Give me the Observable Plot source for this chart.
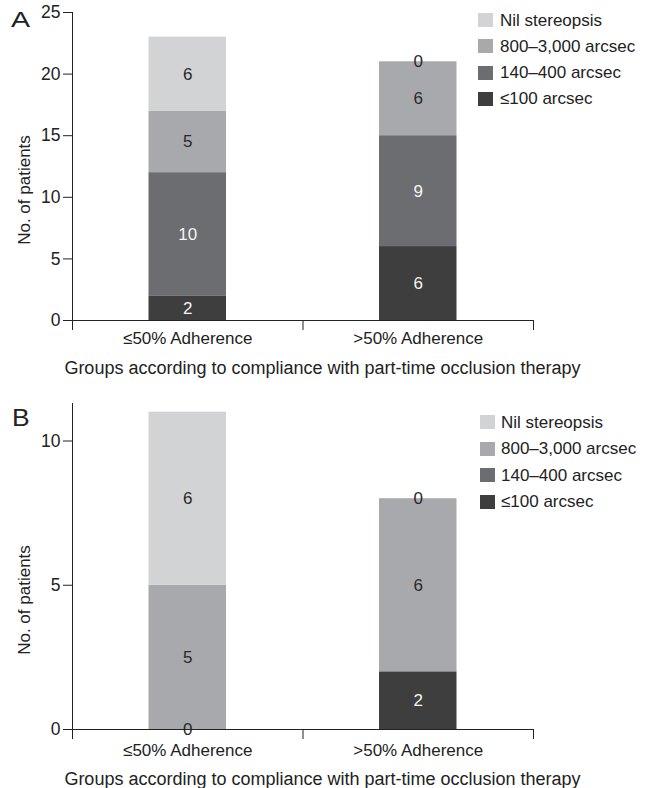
<!DOCTYPE html>
<html><head><meta charset="utf-8">
<script src="https://cdn.jsdelivr.net/npm/d3@7"></script>
<script src="https://cdn.jsdelivr.net/npm/@observablehq/plot@0.6"></script>
<style>
body{margin:0;background:#fff;font-family:"Liberation Sans",Arial,sans-serif;}
#wrap{position:relative;width:649px;height:788px;overflow:hidden;}
.abs{position:absolute;white-space:nowrap;color:#222;font-size:17px;line-height:17px;}
.sw{position:absolute;width:15px;height:14px;}
</style></head><body><div id="wrap"></div>
<script>
const groups = ["≤50% Adherence", ">50% Adherence"];
const categories = ["≤100 arcsec", "140–400 arcsec", "800–3,000 arcsec", "Nil stereopsis"];
const colors = ["#3e3e3f", "#6c6d71", "#a8a9ac", "#d2d3d5"];
// Panel A
const aLe100 = [2, 6];
const a140to400 = [10, 9];
const a800to3000 = [5, 6];
const aNil = [6, 0];
// Panel B
const bLe100 = [0, 2];
const b140to400 = [null, null];
const b800to3000 = [5, 6];
const bNil = [6, 0];
const yTicksA = [0, 5, 10, 15, 20, 25];
const yTicksB = [0, 5, 10];
const xTitle = "Groups according to compliance with part-time occlusion therapy";
const yTitle = "No. of patients";

function buildRows(series) {
  const rows = [];
  groups.forEach((g, i) => {
    let acc = 0;
    series.forEach((vals, k) => {
      const v = vals[i];
      if (v == null) return;
      rows.push({group: g, gi: i, cat: categories[k], ci: k, value: v, y1: acc, y2: acc + v});
      acc += v;
    });
  });
  return rows;
}

function panel(rows, yDomain, yTicks, o) {
  const light = rows.filter(d => !(d.value > 0 && d.ci < 2));
  const dark = rows.filter(d => d.value > 0 && d.ci < 2);
  return Plot.plot({
    width: 649, height: o.height,
    marginLeft: 72, marginRight: 116, marginTop: o.mt, marginBottom: o.mb,
    style: {fontFamily: "'Liberation Sans', Arial, sans-serif", fontSize: "17px", color: "#222", background: "white"},
    x: {type: "linear", domain: [0, groups.length], axis: null},
    y: {domain: yDomain, axis: null},
    color: {domain: categories, range: colors},
    marks: [
      Plot.rect(rows, {x1: d => d.gi, x2: d => d.gi + 1, y1: "y1", y2: "y2", fill: "cat", insetLeft: 76.5, insetRight: 76.5}),
      Plot.text(light, {x: d => d.gi + 0.5, y: d => (d.y1 + d.y2) / 2, text: d => String(d.value), fill: "#2a2a2a", fontSize: 17}),
      Plot.text(dark, {x: d => d.gi + 0.5, y: d => (d.y1 + d.y2) / 2, text: d => String(d.value), fill: "#f4f4f4", fontSize: 17}),
      Plot.axisY({ticks: yTicks, tickSize: 9, tickPadding: 3, tickFormat: d => String(d), label: null, fontSize: 17.5}),
      Plot.axisX({ticks: d3.range(groups.length + 1), tickSize: 10, tickFormat: () => "", label: null}),
      Plot.ruleX([0], {stroke: "#222"}),
      Plot.ruleY([0], {stroke: "#222"}),
      Plot.text(groups, {x: (d, i) => i + 0.5, y: () => 0, text: d => d, dy: o.labelDy, fill: "#222", fontSize: 17})
    ]
  });
}

const wrap = document.getElementById("wrap");
function addSvg(svg, top) {
  svg.style.position = "absolute";
  svg.style.left = "0px";
  svg.style.top = top + "px";
  wrap.appendChild(svg);
}
function addText(txt, css) {
  const d = document.createElement("div");
  d.className = "abs";
  d.textContent = txt;
  Object.assign(d.style, css);
  wrap.appendChild(d);
  return d;
}
function addLegend(swLeft, textLeft, firstY, step) {
  categories.slice().reverse().forEach((c, j) => {
    const k = categories.indexOf(c);
    const cy = firstY + j * step;
    const s = document.createElement("div");
    s.className = "sw";
    s.style.left = swLeft + "px";
    s.style.top = (cy - 7) + "px";
    s.style.background = colors[k];
    wrap.appendChild(s);
    addText(c, {left: textLeft + "px", top: (cy - 8.5) + "px"});
  });
}

addSvg(panel(buildRows([aLe100, a140to400, a800to3000, aNil]), [0, 25], yTicksA,
  {height: 380, mt: 12, mb: 60, labelDy: 18}), 0);
addSvg(panel(buildRows([bLe100, b140to400, b800to3000, bNil]), [0, 11.3], yTicksB,
  {height: 408, mt: 23, mb: 59, labelDy: 21}), 380);

// Panel letters
addText("A", {left: "11px", top: "9px", fontSize: "22px", lineHeight: "22px", transform: "scaleX(1.3)", transformOrigin: "left top"});
addText("B", {left: "12px", top: "407px", fontSize: "23px", lineHeight: "23px", transform: "scaleX(1.15)", transformOrigin: "left top"});

// Axis titles
addText(xTitle, {left: "0px", width: "645px", textAlign: "center", top: "359px", fontSize: "18px", lineHeight: "18px"});
addText(xTitle, {left: "0px", width: "645px", textAlign: "center", top: "770px", fontSize: "18px", lineHeight: "18px"});
addText(yTitle, {left: "24px", top: "190px", transform: "translate(-50%,-50%) rotate(-90deg)"});
addText(yTitle, {left: "24px", top: "600px", transform: "translate(-50%,-50%) rotate(-90deg)"});

// Legends
addLegend(478, 500, 20, 26.3);
addLegend(480, 501, 422, 26.5);
</script>
</body></html>
